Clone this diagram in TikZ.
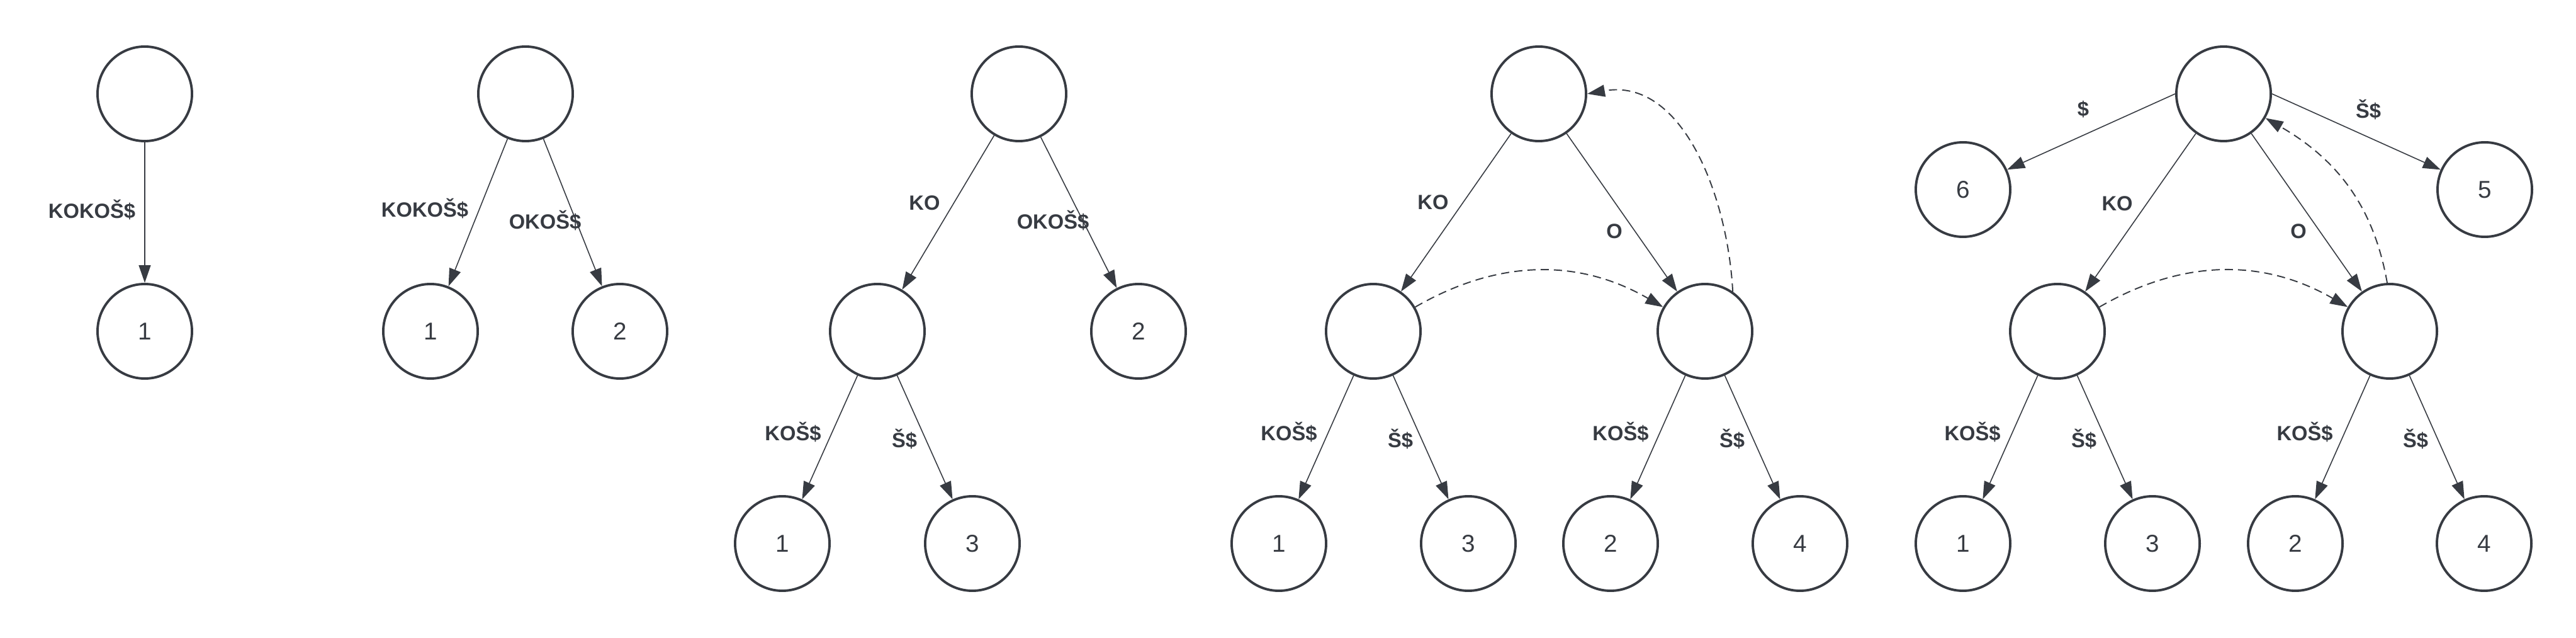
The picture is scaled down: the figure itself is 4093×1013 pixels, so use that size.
\documentclass[tikz,border=0pt]{standalone}
\usepackage{fontspec}
\setmainfont{Liberation Sans}
\usetikzlibrary{arrows.meta}

\definecolor{ink}{HTML}{373B42}

\tikzset{
    sfxnode/.style={circle, draw=ink, line width=1.1pt, minimum size=1.5cm, inner sep=0pt,
        text=ink, font=\fontsize{11}{13}\selectfont},
    sfxedge/.style={-{Triangle[length=0.28cm,width=0.19cm]}, draw=ink, line width=0.45pt},
    sfxlink/.style={sfxedge, line width=0.55pt, dash pattern=on 0.13cm off 0.08cm},
    sfxlbl/.style={text=ink, font=\bfseries\fontsize{9.3}{11}\selectfont}
}

\begin{document}
\begin{tikzpicture}[x=0.01cm, y=-0.01cm]
    \useasboundingbox (0,0) rectangle (4093,1013);

    % Tree after KOKOS$
    \node[sfxnode] (a0) at (230,149) {};
    \node[sfxnode] (a1) at (230,526) {1};
    \draw[sfxedge] (a0) -- (a1);
    \node[sfxlbl] (la1) at (146,333) {KOKOŠ\$};

    % Tree after OKOS$
    \node[sfxnode] (b0) at (835,149) {};
    \node[sfxnode] (b1) at (684,526) {1};
    \node[sfxnode] (b2) at (985,526) {2};
    \draw[sfxedge] (b0) -- (b1);
    \draw[sfxedge] (b0) -- (b2);
    \node[sfxlbl] (lb1) at (675,331) {KOKOŠ\$};
    \node[sfxlbl] (lb2) at (866,350) {OKOŠ\$};

    % Tree after KOS$
    \node[sfxnode] (c0) at (1619,149) {};
    \node[sfxnode] (c1) at (1394,526) {};
    \node[sfxnode] (c2) at (1809,526) {2};
    \node[sfxnode] (c3) at (1243,863) {1};
    \node[sfxnode] (c4) at (1545,863) {3};
    \draw[sfxedge] (c0) -- (c1);
    \draw[sfxedge] (c0) -- (c2);
    \draw[sfxedge] (c1) -- (c3);
    \draw[sfxedge] (c1) -- (c4);
    \node[sfxlbl] (lc1) at (1469,322) {KO};
    \node[sfxlbl] (lc2) at (1673,350) {OKOŠ\$};
    \node[sfxlbl] (lc3) at (1260,686) {KOŠ\$};
    \node[sfxlbl] (lc4) at (1437,697) {Š\$};

    % Tree after OS$ with suffix links
    \node[sfxnode] (d0) at (2445,149) {};
    \node[sfxnode] (d1) at (2182,526) {};
    \node[sfxnode] (d2) at (2709,526) {};
    \node[sfxnode] (d3) at (2032,863) {1};
    \node[sfxnode] (d4) at (2333,863) {3};
    \node[sfxnode] (d5) at (2559,863) {2};
    \node[sfxnode] (d6) at (2860,863) {4};
    \draw[sfxedge] (d0) -- (d1);
    \draw[sfxedge] (d0) -- (d2);
    \draw[sfxedge] (d1) -- (d3);
    \draw[sfxedge] (d1) -- (d4);
    \draw[sfxedge] (d2) -- (d5);
    \draw[sfxedge] (d2) -- (d6);
    \draw[sfxlink] (d1) to[bend left=30] (d2);
    \draw[sfxlink] (d2.55) to[out=93, in=10] (d0.east);
    \node[sfxlbl] (ld1) at (2277,321) {KO};
    \node[sfxlbl] (ld2) at (2565,367) {O};
    \node[sfxlbl] (ld3) at (2048,686) {KOŠ\$};
    \node[sfxlbl] (ld4) at (2225,697) {Š\$};
    \node[sfxlbl] (ld5) at (2575,686) {KOŠ\$};
    \node[sfxlbl] (ld6) at (2752,697) {Š\$};

    % Final tree for KOKOS$
    \node[sfxnode] (e0) at (3533,149) {};
    \node[sfxnode] (e1) at (3269,526) {};
    \node[sfxnode] (e2) at (3797,526) {};
    \node[sfxnode] (e3) at (3119,301) {6};
    \node[sfxnode] (e4) at (3948,301) {5};
    \node[sfxnode] (e5) at (3119,863) {1};
    \node[sfxnode] (e6) at (3420,863) {3};
    \node[sfxnode] (e7) at (3647,863) {2};
    \node[sfxnode] (e8) at (3947,863) {4};
    \draw[sfxedge] (e0.west) -- (e3);
    \draw[sfxedge] (e0.east) -- (e4);
    \draw[sfxedge] (e0) -- (e1);
    \draw[sfxedge] (e0) -- (e2);
    \draw[sfxedge] (e1) -- (e5);
    \draw[sfxedge] (e1) -- (e6);
    \draw[sfxedge] (e2) -- (e7);
    \draw[sfxedge] (e2) -- (e8);
    \draw[sfxlink] (e1) to[bend left=30] (e2);
    \draw[sfxlink] (e2.93) to[out=100, in=-30] (e0);
    \node[sfxlbl] (le1) at (3310,174) {\$};
    \node[sfxlbl] (le2) at (3763,174) {Š\$};
    \node[sfxlbl] (le3) at (3364,323) {KO};
    \node[sfxlbl] (le4) at (3652,367) {O};
    \node[sfxlbl] (le5) at (3134,686) {KOŠ\$};
    \node[sfxlbl] (le6) at (3311,697) {Š\$};
    \node[sfxlbl] (le7) at (3662,686) {KOŠ\$};
    \node[sfxlbl] (le8) at (3838,697) {Š\$};
\end{tikzpicture}
\end{document}
